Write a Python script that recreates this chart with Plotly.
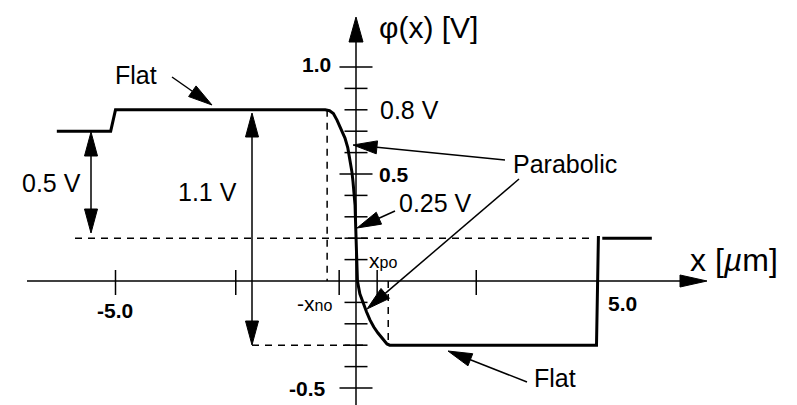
import math
import plotly.graph_objects as go

# potential across the junction, x in um, phi in V
phi_x = [-6.22, -5.1, -5.0, -0.64, -0.55, -0.47, -0.395, -0.32, -0.229, -0.17, -0.125,
         -0.085, -0.062, -0.04, -0.02, -0.01, 0.0, 0.01, 0.03, 0.08, 0.146, 0.22, 0.29,
         0.37, 0.457, 0.55, 0.644, 0.7, 5.0, 5.04]
phi_y = [0.7, 0.7, 0.8, 0.8, 0.796, 0.783, 0.752, 0.715, 0.668, 0.622, 0.565,
         0.51, 0.463, 0.41, 0.355, 0.28, 0.2, 0.1, 0.0, -0.06, -0.103, -0.145, -0.182,
         -0.215, -0.243, -0.27, -0.294, -0.3, -0.3, 0.21]
right_x = [5.12, 6.15]
right_y = [0.2, 0.2]

phi_top, phi_left, phi_right, phi_bottom = 0.8, 0.7, 0.2, -0.3
x_no, x_po = 0.35, 0.44
xdep_left, xdep_right = -0.6, 0.67

y_major = [1.0, 0.5, -0.5]
y_minor = [0.9, 0.8, 0.7, 0.6, 0.4, 0.3, 0.2, 0.1, -0.1, -0.2, -0.3, -0.4]
x_ticks = [-5.0, -2.5, -x_no, x_po, 2.5]

# pixel scale of the sketch
SX, SY = 48.1, 214.0
X0, Y0 = 356, 281
W, H = 797, 405

FONT = "Liberation Sans, Arial, Helvetica, sans-serif"
BLACK = "black"

fig = go.Figure()

fig.add_trace(go.Scatter(x=phi_x, y=phi_y, mode="lines",
                         line=dict(color=BLACK, width=3), hoverinfo="skip"))
fig.add_trace(go.Scatter(x=right_x, y=right_y, mode="lines",
                         line=dict(color=BLACK, width=3), hoverinfo="skip"))


def line(x0, y0, x1, y1, width=1.5, dash=None):
    fig.add_shape(type="line", x0=x0, y0=y0, x1=x1, y1=y1, xref="x", yref="y",
                  line=dict(color=BLACK, width=width, dash=dash), layer="below")


def head(tail, tip, length=24, half=6.5):
    dx = (tip[0] - tail[0]) * SX
    dy = (tip[1] - tail[1]) * SY
    n = math.hypot(dx, dy)
    ux, uy = dx / n, dy / n
    bx = tip[0] - ux * length / SX
    by = tip[1] - uy * length / SY
    c1 = (bx - uy * half / SX, by + ux * half / SY)
    c2 = (bx + uy * half / SX, by - ux * half / SY)
    fig.add_shape(type="path",
                  path=f"M{tip[0]},{tip[1]} L{c1[0]},{c1[1]} L{c2[0]},{c2[1]} Z",
                  xref="x", yref="y", fillcolor=BLACK, line=dict(color=BLACK, width=1))
    return (bx, by)


def arrow(tail, tip, both=False, width=1.5, length=24, half=6.5):
    base = head(tail, tip, length, half)
    start = head(tip, tail, length, half) if both else tail
    line(start[0], start[1], base[0], base[1], width)


def px(v):
    return (v - X0) / SX


def py(v):
    return (Y0 - v) / SY


# axes
arrow((px(27), 0), (px(707), 0), width=1.5, length=27, half=6)
arrow((0, py(410)), (0, py(17)), width=1.5, length=25, half=7)

for t in y_major:
    line(-16.5 / SX, t, 16.5 / SX, t)
for t in y_minor:
    line(-11.5 / SX, t, 11.5 / SX, t)
for t in x_ticks:
    line(t, 11 / SY, t, -14 / SY)

# dashed guides
dash = "7px,6px"
line(px(75), phi_right, px(593), phi_right, dash=dash)
line(px(252), phi_bottom, px(368), phi_bottom, dash=dash)
line(xdep_left, phi_top, xdep_left, 0, dash=dash)
line(xdep_right, 0, xdep_right, phi_bottom, dash=dash)

# annotation arrows
arrow((px(91), py(132)), (px(91), py(233)), both=True)
arrow((px(252), py(113)), (px(252), py(345)), both=True)
arrow((px(172), py(77)), (px(212), py(105)))
arrow((px(505), py(160)), (px(353), py(145)))
arrow((px(519), py(179)), (px(367), py(309)))
arrow((px(395), py(211)), (px(357), py(228)))
arrow((px(527), py(382)), (px(448), py(351)))


def label(x, y, text, size=25, anchor="center", bold=False):
    if bold:
        text = f"<b>{text}</b>"
    fig.add_annotation(x=x, y=y, text=text, showarrow=False, xref="x", yref="y",
                       xanchor=anchor, yanchor="middle",
                       font=dict(family=FONT, size=size, color=BLACK))


label(px(377), py(27), "φ(x) [V]", size=30, anchor="left")
label(px(688), py(260), "x [<i>µ</i>m]", size=32, anchor="left")
label(px(333), py(64), "1.0", size=21, anchor="right", bold=True)
label(px(377), py(174), "0.5", size=21, anchor="left", bold=True)
label(px(328), py(388), "-0.5", size=21, anchor="right", bold=True)
label(px(115), py(310), "-5.0", size=21, bold=True)
label(px(622), py(303), "5.0", size=21, bold=True)
label(px(378), py(110), "0.8 V", anchor="left")
label(px(397), py(203), "0.25 V", anchor="left")
label(px(511), py(164), "Parabolic", anchor="left")
label(px(136), py(75), "Flat")
label(px(555), py(378), "Flat")
label(px(51), py(183), "0.5 V")
label(px(207), py(192), "1.1 V")
label(px(334), py(303), "-x<span style='font-size:16px'>no</span>", size=21, anchor="right")
label(px(367), py(260), "x<span style='font-size:16px'>po</span>", size=21, anchor="left")

fig.update_layout(
    width=W, height=H,
    margin=dict(l=0, r=0, t=0, b=0),
    paper_bgcolor="white", plot_bgcolor="white",
    showlegend=False,
    xaxis=dict(range=[px(0), px(W)], visible=False, fixedrange=True),
    yaxis=dict(range=[py(H), py(0)], visible=False, fixedrange=True),
)

fig.write_html("out.html", config={"displayModeBar": False},
               post_script="document.body.style.margin='0';")
